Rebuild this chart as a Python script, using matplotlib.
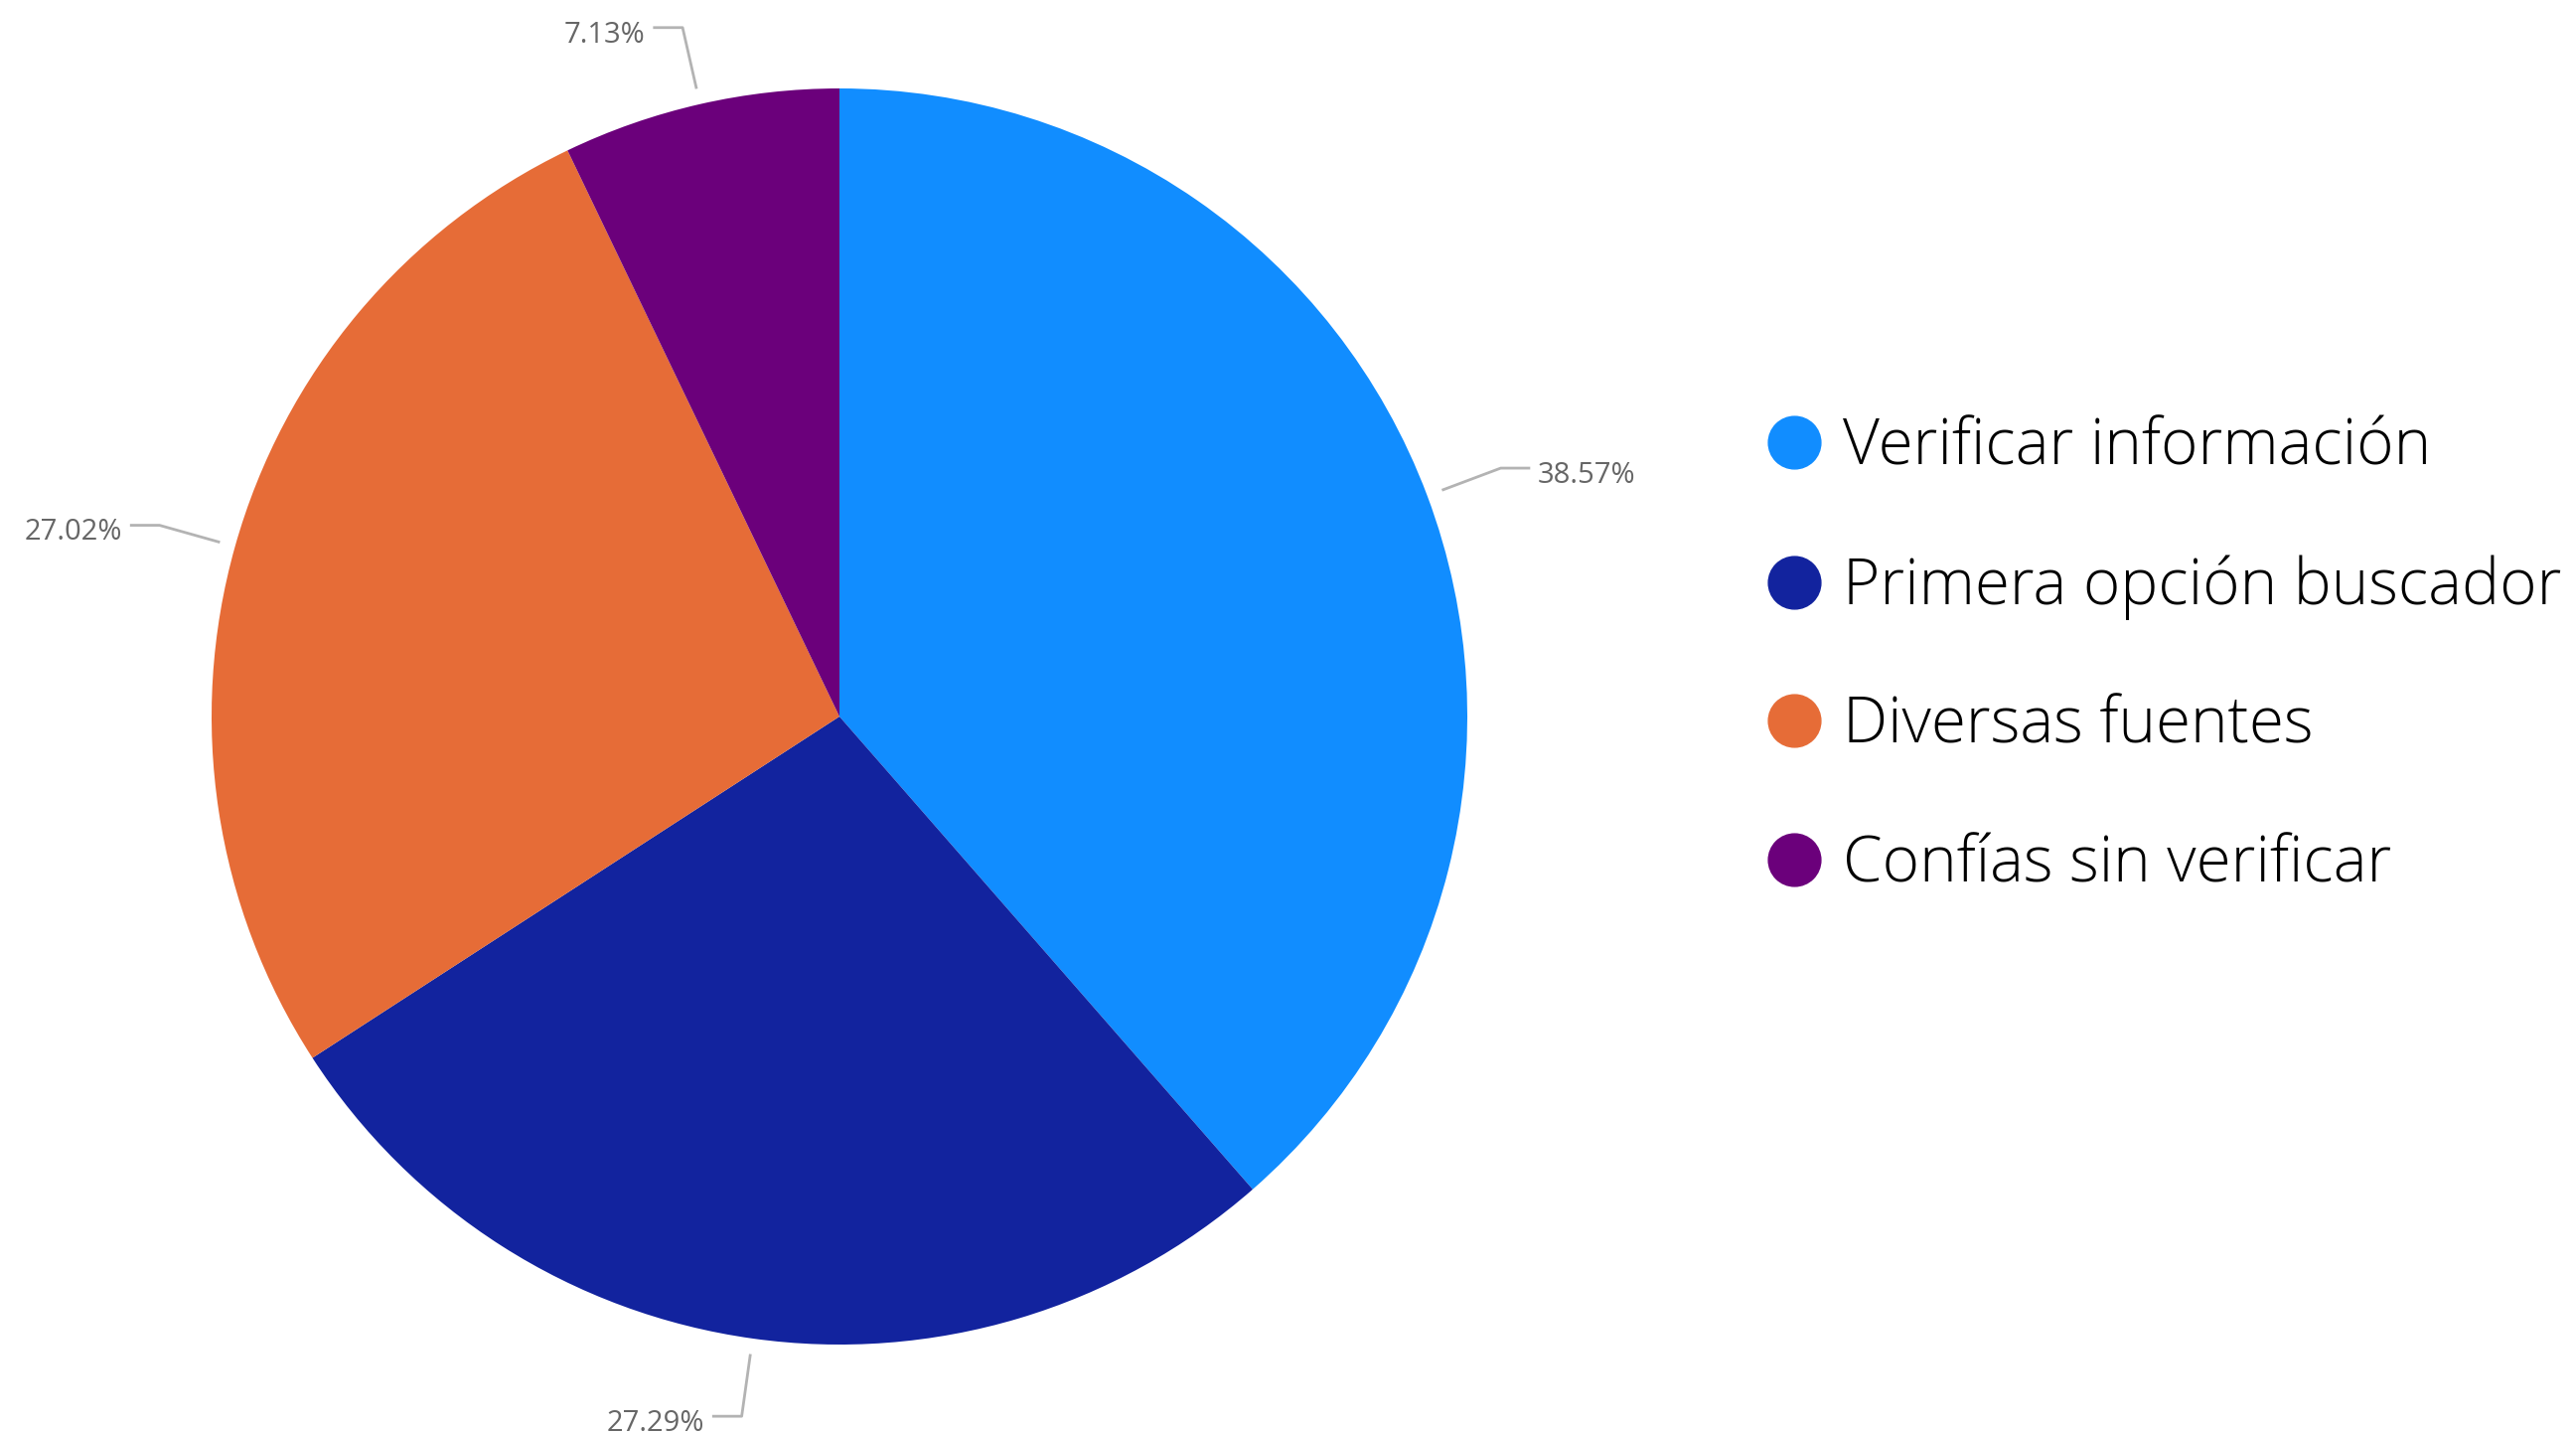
import numpy as np
import matplotlib
matplotlib.use('Agg')
import matplotlib.pyplot as plt
from matplotlib.lines import Line2D

categories = ['Verificar información', 'Primera opción buscador',
              'Diversas fuentes', 'Confías sin verificar']
shares = [38.57, 27.29, 27.02, 7.13]
colors = ['#118DFF', '#12239E', '#E66C37', '#6B007B']

W, H = 2593, 1442
fig = plt.figure(figsize=(W / 100, H / 100), dpi=100, facecolor='white')

# pie centre (845, 721) px, radius 632 px
cx, cy, R = 845, 721, 632
ax = fig.add_axes([(cx - R) / W, (H - cy - R) / H, 2 * R / W, 2 * R / H])

wedges, _ = ax.pie(shares, colors=colors, startangle=90, counterclock=False,
                   radius=1.0, wedgeprops=dict(linewidth=0))
ax.set_xlim(-1, 1)
ax.set_ylim(-1, 1)
ax.set_aspect('equal')
ax.axis('off')
for w in wedges:
    w.set_clip_on(False)

# percentage labels with leader lines
for w, v in zip(wedges, shares):
    mid = np.radians((w.theta1 + w.theta2) / 2)
    x0, y0 = 1.025 * np.cos(mid), 1.025 * np.sin(mid)
    x1, y1 = 1.125 * np.cos(mid), 1.125 * np.sin(mid)
    side = 1 if np.cos(mid) >= 0 else -1
    x2 = x1 + side * 0.047
    ax.plot([x0, x1, x2], [y0, y1, y1], color='#B3B3B3', lw=2,
            clip_on=False, solid_capstyle='butt')
    ax.text(x2 + side * 0.012, y1 - 0.006, f'{v:.2f}%', color='#666666',
            fontsize=21, family='Open Sans',
            ha='left' if side > 0 else 'right', va='center_baseline')

handles = [Line2D([], [], marker='o', linestyle='none', markersize=38,
                  markerfacecolor=c, markeredgecolor=c) for c in colors]
leg = fig.legend(handles, categories, loc='center left',
                 bbox_to_anchor=(1778 / W, 1 - 661 / H),
                 frameon=False, borderpad=0, borderaxespad=0,
                 handlelength=0.87, handletextpad=0.33, labelspacing=1.17,
                 prop={'family': 'Open Sans', 'size': 46, 'weight': 'light'})

fig.savefig('out.png', dpi=100, facecolor='white')
